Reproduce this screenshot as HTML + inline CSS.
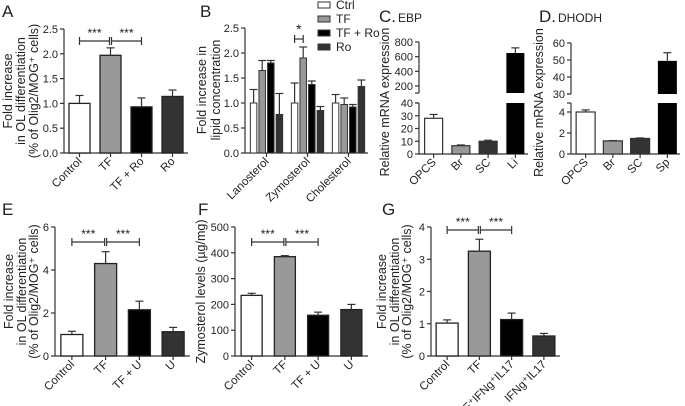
<!DOCTYPE html>
<html><head><meta charset="utf-8"><style>
html,body{margin:0;padding:0;background:#fff}
svg{display:block;font-family:"Liberation Sans",sans-serif;fill:#222;font-size:11px}
</style></head><body>
<svg id="fig" width="685" height="406" viewBox="0 0 685 406" xmlns="http://www.w3.org/2000/svg"></svg>
<script>
// ---- data ----
const aCats=["Control","TF","TF + Ro","Ro"];
const aVals=[1.0,1.97,0.93,1.14];
const aErr=[0.16,0.15,0.18,0.13];
const aTicks=["0.0","0.5","1.0","1.5","2.0","2.5"];

const bGroups=["Lanosterol","Zymosterol","Cholesterol"];
const bSeries=["Ctrl","TF","TF + Ro","Ro"];
const bCtrl=[1.0,1.0,1.0];
const bTF=[1.65,1.9,0.97];
const bTFRo=[1.8,1.37,0.92];
const bRo=[0.77,0.85,1.33];
const bCtrlErr=[0.27,0.4,0.17];
const bTFErr=[0.2,0.22,0.13];
const bTFRoErr=[0.05,0.07,0.05];
const bRoErr=[0.42,0.08,0.13];
const bTicks=["0.0","0.5","1.0","1.5","2.0","2.5"];

const cCats=["OPCS","Br","SC","Li"];
const cVals=[28,6.5,10,650];
const cErr=[3,0.6,0.8,70];
const cLowTicks=[0,10,20,30,40];
const cHighTicks=[200,400,600,800];

const dCats=["OPCS","Br","SC","Sp"];
const dVals=[4.0,1.25,1.48,49.5];
const dErr=[0.2,0.03,0.05,4.8];
const dLowTicks=[0,2,4];
const dHighTicks=[30,40,50,60];

const eCats=["Control","TF","TF + U","U"];
const eVals=[1.0,4.3,2.15,1.13];
const eErr=[0.15,0.55,0.4,0.2];
const eTicks=[0,2,4,6];

const fCats=["Control","TF","TF + U","U"];
const fVals=[235,385,158,180];
const fErr=[8,4,12,20];
const fTicks=[0,100,200,300,400,500];

const gCats=["Control","TF","TF\u207AIFNg\u207AIL17","IFNg\u207AIL17"];
const gVals=[1.02,3.25,1.13,0.62];
const gErr=[0.1,0.37,0.2,0.08];
const gTicks=[0,1,2,3,4];

const fills=["#ffffff","#999999","#000000","#333333"];
const NS="http://www.w3.org/2000/svg";
const svg=document.getElementById('fig');
function el(tag,attrs,parent){const e=document.createElementNS(NS,tag);for(const k in attrs)e.setAttribute(k,attrs[k]);(parent||svg).appendChild(e);return e;}
function txt(x,y,s,attrs,parent){const t=el('text',Object.assign({x:x,y:y},attrs||{}),parent);t.textContent=s;return t;}
function line(x1,y1,x2,y2,parent){return el('line',{x1:x1,y1:y1,x2:x2,y2:y2,stroke:'#333','stroke-width':1.2},parent);}
function errBar(g,cx,yTop,yErr){line(cx,yTop,cx,yErr,g);line(cx-4,yErr,cx+4,yErr,g);}
function bracket(g,x1,x2,y,label){line(x1,y,x2,y,g);line(x1,y-4,x1,y+4,g);line(x2,y-4,x2,y+4,g);txt((x1+x2)/2,y-4,label,{'text-anchor':'middle','font-size':'12'},g);}
function ytitle(g,x,cy,s,size){return txt(x,cy,s,{'text-anchor':'middle','font-size':size||12,transform:'rotate(-90 '+x+' '+cy+')'},g);}
function xlabel(g,cx,y,s){return txt(cx+3,y+9,s,{'text-anchor':'end','font-size':'11.5',transform:'rotate(-45 '+(cx+3)+' '+(y+9)+')'},g);}

function simplePanel(name,cfg){
  const g=el('g',{});
  
  
  const ys=v=>cfg.y0-v*(cfg.y0-cfg.yTop)/cfg.max;
  line(cfg.ax,cfg.yTop,cfg.ax,cfg.y0,g);
  line(cfg.ax,cfg.y0,cfg.xEnd,cfg.y0,g);
  cfg.ticks.forEach(t=>{const v=parseFloat(t);const y=ys(v);line(cfg.ax-4,y,cfg.ax,y,g);
    const tl=txt(cfg.ax-6,y+4,String(t),{'text-anchor':'end','font-size':'11'},g);
    
    });
  const n=cfg.cats.length, step=(cfg.xEnd-cfg.ax)/n;
  cfg.cats.forEach((c,i)=>{
    const cx=cfg.ax+step*(i+0.5);
    const r=el('rect',{x:cx-cfg.bw/2,y:ys(cfg.vals[i]),width:cfg.bw,height:cfg.y0-ys(cfg.vals[i]),fill:fills[i],stroke:'#222','stroke-width':1.3},g);
    
    
    errBar(g,cx,ys(cfg.vals[i]),ys(cfg.vals[i]+cfg.err[i]));
    line(cx,cfg.y0,cx,cfg.y0+4,g);
    const xl=xlabel(g,cx,cfg.y0,c);
    
    
  });
  if(cfg.brackets){
    const c0=cfg.ax+step*0.5,c1=cfg.ax+step*1.5,c2=cfg.ax+step*2.5;
    bracket(g,c0,c1-1,cfg.by,'***');bracket(g,c1+1,c2,cfg.by,'***');
  }
  cfg.titles.forEach((s,i)=>ytitle(g,cfg.tx[i],(cfg.yTop+cfg.y0)/2,s,cfg.tsize));
  const L=txt(cfg.lx,cfg.ly,cfg.letter,{'font-size':'17'},g);
  
  
  return g;
}
const olTitles=["Fold increase","in OL differentiation","(% of Olig2/MOG\u207A cells)"];
simplePanel('panel-a',{cats:aCats,vals:aVals,err:aErr,ticks:aTicks,max:2.5,ax:64,xEnd:188,y0:153,yTop:29,bw:21,brackets:true,by:41,titles:olTitles,tx:[12,25,38],tsize:12.5,letter:'A',lx:2,ly:17});
simplePanel('panel-e',{cats:eCats,vals:eVals,err:eErr,ticks:eTicks,max:6,ax:55,xEnd:190,y0:356,yTop:227,bw:22,brackets:true,by:242,titles:olTitles,tx:[13,26,38],tsize:12.5,letter:'E',lx:2,ly:215});
simplePanel('panel-f',{cats:fCats,vals:fVals,err:fErr,ticks:fTicks,max:500,ax:235,xEnd:368,y0:356,yTop:227,bw:21,brackets:true,by:242,titles:["Zymosterol levels (\u00B5g/mg)"],tx:[205],tsize:12.5,letter:'F',lx:198,ly:215});
simplePanel('panel-g',{cats:gCats,vals:gVals,err:gErr,ticks:gTicks,max:4,ax:431,xEnd:560,y0:356,yTop:227,bw:22,brackets:true,by:230,titles:olTitles,tx:[386,399,411],tsize:12.5,letter:'G',lx:382,ly:215});

(function(){
  const g=el('g',{});
  
  
  const ax=245,y0=153,yTop=28,xEnd=368,max=2.5;
  const ys=v=>y0-v*(y0-yTop)/max;
  line(ax,yTop,ax,y0,g);line(ax,y0,xEnd,y0,g);
  bTicks.forEach(t=>{const y=ys(parseFloat(t));line(ax-4,y,ax,y,g);txt(ax-6,y+4,t,{'text-anchor':'end','font-size':'11'},g);});
  const series=[bCtrl,bTF,bTFRo,bRo],errs=[bCtrlErr,bTFErr,bTFRoErr,bRoErr];
  const gw=(xEnd-ax)/3,bw=6.5,gap=8.6;
  bGroups.forEach((name,gi)=>{
    const gc=ax+gw*(gi+0.5)+1;
    series.forEach((s,si)=>{
      const cx=gc+(si-1.5)*gap;
      const r=el('rect',{x:cx-bw/2,y:ys(s[gi]),width:bw,height:y0-ys(s[gi]),fill:fills[si],stroke:'#333','stroke-width':1},g);
      
      
      errBar(g,cx,ys(s[gi]),ys(s[gi]+errs[si][gi]));
    });
    line(gc,y0,gc,y0+4,g);
    xlabel(g,gc,y0,name);
    if(gi===1){const x1=gc-1.5*gap,x2=gc-0.5*gap;line(x1,39,x2,39,g);line(x1,35,x1,43,g);line(x2,35,x2,43,g);txt((x1+x2)/2,34,'*',{'text-anchor':'middle','font-size':'14'},g);}
  });
  ytitle(g,206,90,"Fold increase in",12.5);
  ytitle(g,220,90,"lipid concentration",12.5);
  txt(200,17,'B',{'font-size':'17'},g);
  bSeries.forEach((s,i)=>{
    const y=5+i*14;
    const r=el('rect',{x:318,y:y-3,width:12,height:6,fill:fills[i],stroke:'#333','stroke-width':1},g);
    
    
    const t=txt(336,y+4,s,{'font-size':'12'},g);
    
    
  });
})();

const cdFills=["#ffffff","#999999","#333333","#000000"];
function brokenPanel(name,cfg){
  const g=el('g',{});
  
  
  const yl=v=>cfg.y0-v*(cfg.y0-cfg.lowTopY)/cfg.lowTopV;
  const yu=v=>cfg.uA[1]-(v-cfg.uA[0])*(cfg.uA[1]-cfg.uB[1])/(cfg.uB[0]-cfg.uA[0]);
  line(cfg.ax,cfg.lowAxisTop,cfg.ax,cfg.y0,g);
  line(cfg.ax,cfg.upBottom,cfg.ax,yu(cfg.highTicks[cfg.highTicks.length-1]),g);
  line(cfg.ax,cfg.y0,cfg.xEnd,cfg.y0,g);
  line(cfg.ax-4,cfg.lowAxisTop,cfg.ax,cfg.lowAxisTop,g);
  line(cfg.ax-4,cfg.upBottom,cfg.ax,cfg.upBottom,g);
  cfg.lowTicks.forEach(t=>{const y=yl(t);line(cfg.ax-4,y,cfg.ax,y,g);txt(cfg.ax-6,y+4,String(t),{'text-anchor':'end','font-size':'11'},g);});
  cfg.highTicks.forEach(t=>{const y=yu(t);line(cfg.ax-4,y,cfg.ax,y,g);txt(cfg.ax-6,y+4,String(t),{'text-anchor':'end','font-size':'11'},g);});
  const step=(cfg.xEnd-cfg.ax)/cfg.cats.length;
  cfg.cats.forEach((c,i)=>{
    const cx=cfg.ax+step*(i+0.5)+1,v=cfg.vals[i],bw=cfg.bw;
    if(v<=cfg.lowTopV){
      const r=el('rect',{x:cx-bw/2,y:yl(v),width:bw,height:cfg.y0-yl(v),fill:cdFills[i],stroke:'#333','stroke-width':1.2},g);
      
      
      errBar(g,cx,yl(v),yl(v+cfg.err[i]));
    } else {
      const r=el('rect',{x:cx-bw/2,y:cfg.lowAxisTop,width:bw,height:cfg.y0-cfg.lowAxisTop,fill:cdFills[i]},g);
      
      
      const r2=el('rect',{x:cx-bw/2,y:yu(v),width:bw,height:cfg.upBottom-yu(v),fill:cdFills[i]},g);
      
      
      errBar(g,cx,yu(v),yu(v+cfg.err[i]));
    }
    line(cx,cfg.y0,cx,cfg.y0+4,g);
    xlabel(g,cx,cfg.y0,c);
  });
  ytitle(g,cfg.tx,(cfg.upTop+cfg.y0)/2+4,"Relative mRNA expression",12.5);
  txt(cfg.lx,22,cfg.letter,{'font-size':'17'},g);
  txt(cfg.lx+19,22,cfg.gene,{'font-size':'12'},g);
}
brokenPanel('panel-c',{cats:cCats,vals:cVals,err:cErr,lowTicks:cLowTicks,highTicks:cHighTicks,ax:419,xEnd:528,y0:154,lowTopV:40,lowTopY:103,lowAxisTop:103,upBottom:93,uA:[200,86],uB:[800,42],upTop:42,bw:18,tx:389,lx:379,letter:'C.',gene:'EBP'});
brokenPanel('panel-d',{cats:dCats,vals:dVals,err:dErr,lowTicks:dLowTicks,highTicks:dHighTicks,ax:571,xEnd:680,y0:154,lowTopV:4.857,lowTopY:103,lowAxisTop:103,upBottom:94,uA:[30,94],uB:[60,43],upTop:43,bw:19,tx:543,lx:539,letter:'D.',gene:'DHODH'});
</script>
</body></html>
